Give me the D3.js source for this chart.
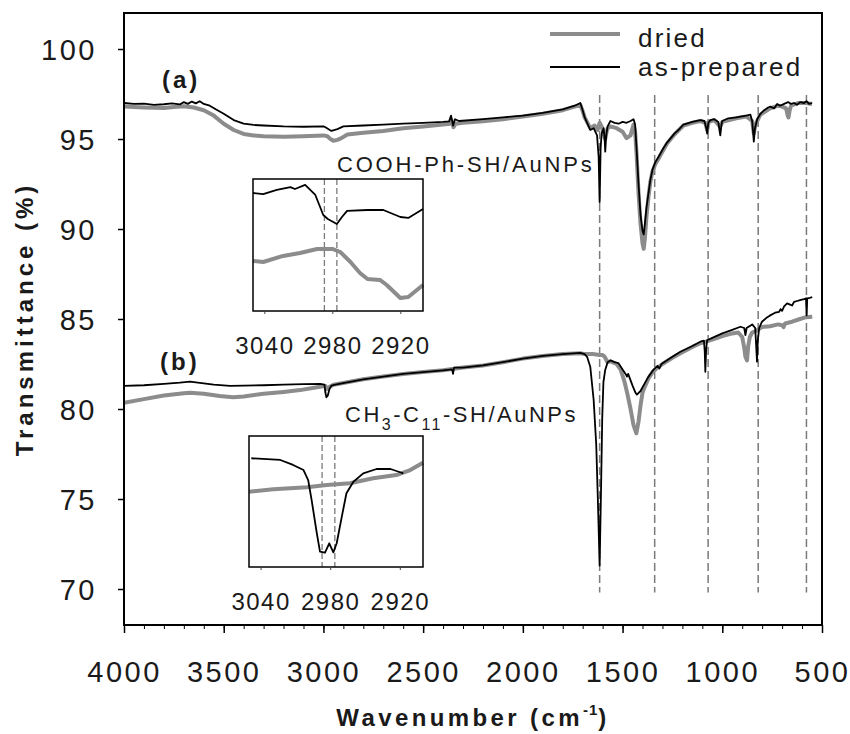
<!DOCTYPE html>
<html>
<head>
<meta charset="utf-8">
<script src="https://cdn.jsdelivr.net/npm/d3@7"></script>
<style>
  body { margin: 0; background: #fff; }
  svg text { font-family: "Liberation Sans", Arial, Helvetica, sans-serif; fill: #1a1a1a; }
</style>
</head>
<body>
<svg id="chart" width="850" height="734"></svg>
<script>
// ---- data (wavenumber cm-1, transmittance %) ----
const xTicks = [4000, 3500, 3000, 2500, 2000, 1500, 1000, 500];
const yTicks = [70, 75, 80, 85, 90, 95, 100];
const insetTicks = [3040, 2980, 2920];
const bandMarks = [1615, 1339, 1071, 820, 578];   // dashed guide lines
const insetMarks = [2987, 2976];

const preparedA = [[4000,97.0],[3950,96.95],[3900,96.97],[3850,96.9],[3800,96.93],[3760,96.98],[3720,96.92],[3700,97.05],[3680,96.95],[3660,97.08],[3640,96.98],[3620,97.1],[3600,96.95],[3570,96.85],[3540,96.65],[3500,96.4],[3450,96.05],[3400,95.85],[3350,95.78],[3300,95.75],[3200,95.7],[3100,95.68],[3000,95.7],[2990,95.65],[2960,95.45],[2930,95.55],[2900,95.7],[2800,95.75],[2700,95.8],[2600,95.85],[2500,95.9],[2400,95.95],[2370,95.98],[2360,96.3],[2350,95.75],[2340,96.1],[2320,96.0],[2200,96.1],[2100,96.2],[2000,96.3],[1900,96.45],[1800,96.65],[1740,96.85],[1712,97.0],[1700,96.6],[1690,96.2],[1662,95.5],[1645,95.6],[1628,95.2],[1620,94.0],[1615,91.5],[1610,94.5],[1605,95.3],[1595,95.6],[1590,95.0],[1587,94.3],[1582,95.2],[1575,95.7],[1561,96.0],[1540,95.9],[1520,95.85],[1500,95.95],[1480,95.9],[1460,96.0],[1445,96.1],[1437,95.8],[1430,94.5],[1420,92.5],[1410,90.8],[1400,89.9],[1394,89.7],[1388,90.3],[1380,91.2],[1370,92.0],[1361,92.7],[1350,93.3],[1336,93.7],[1320,94.0],[1300,94.4],[1277,94.8],[1240,95.3],[1220,95.5],[1195,95.8],[1150,95.95],[1110,96.05],[1090,96.0],[1080,95.6],[1076,95.3],[1070,95.9],[1060,96.05],[1040,96.1],[1020,95.95],[1013,95.4],[1010,95.2],[1004,95.8],[1000,96.0],[970,96.15],[930,96.2],[880,96.3],[859,96.35],[850,96.0],[845,95.3],[842,94.85],[836,95.6],[825,96.1],[809,96.4],[790,96.6],[770,96.75],[759,96.8],[740,96.7],[725,96.95],[710,96.85],[690,96.95],[670,97.05],[655,96.95],[640,97.0],[625,96.9],[610,97.05],[590,97.0],[578,97.1],[565,96.95],[550,97.0]];

const driedA = [[4000,96.8],[3900,96.75],[3800,96.72],[3750,96.78],[3700,96.82],[3650,96.75],[3600,96.6],[3550,96.3],[3500,95.85],[3450,95.5],[3400,95.28],[3350,95.2],[3300,95.15],[3200,95.12],[3100,95.15],[3000,95.2],[2980,95.15],[2965,95.0],[2950,94.9],[2930,94.95],[2910,95.05],[2880,95.25],[2800,95.35],[2700,95.45],[2600,95.6],[2500,95.7],[2400,95.8],[2365,95.85],[2358,96.05],[2348,95.65],[2338,95.85],[2300,95.9],[2200,95.98],[2100,96.1],[2000,96.25],[1900,96.4],[1800,96.6],[1740,96.8],[1712,96.9],[1700,96.55],[1690,96.2],[1662,95.6],[1640,95.75],[1625,95.5],[1615,95.9],[1605,95.7],[1595,95.3],[1587,95.0],[1580,95.4],[1575,95.6],[1561,95.7],[1530,95.6],[1500,95.4],[1480,95.05],[1460,95.2],[1445,95.8],[1437,95.4],[1430,94.2],[1420,92.0],[1410,90.3],[1400,89.2],[1394,88.9],[1388,89.5],[1380,90.7],[1370,91.8],[1361,92.6],[1350,93.2],[1336,93.6],[1320,93.9],[1300,94.3],[1277,94.75],[1240,95.25],[1195,95.75],[1150,95.9],[1110,96.0],[1085,95.9],[1076,95.5],[1068,95.95],[1040,96.05],[1012,95.7],[1005,95.8],[1000,95.95],[930,96.15],[880,96.25],[850,96.0],[842,95.3],[835,95.7],[825,96.0],[809,96.35],[760,96.7],[720,96.85],[700,96.8],[680,96.7],[672,96.3],[668,96.2],[662,96.6],[655,96.85],[620,97.0],[580,97.0],[550,96.95]];

const preparedB = [[4000,81.28],[3900,81.32],[3800,81.4],[3720,81.46],[3669,81.52],[3620,81.45],[3550,81.35],[3468,81.28],[3400,81.3],[3300,81.32],[3200,81.35],[3100,81.38],[3017,81.4],[2995,81.35],[2990,80.9],[2985,80.65],[2978,80.75],[2970,81.1],[2960,81.3],[2940,81.35],[2901,81.44],[2800,81.65],[2700,81.8],[2600,81.95],[2500,82.05],[2400,82.15],[2355,82.2],[2350,81.95],[2345,82.3],[2300,82.3],[2200,82.42],[2100,82.6],[2000,82.8],[1900,82.95],[1800,83.05],[1712,83.12],[1690,83.05],[1678,82.9],[1662,82.35],[1645,80.5],[1632,78.0],[1624,75.0],[1615,71.3],[1608,75.5],[1602,79.5],[1596,81.5],[1587,82.17],[1575,82.6],[1561,82.7],[1540,82.6],[1521,82.55],[1500,82.2],[1485,81.95],[1478,81.8],[1472,81.95],[1450,81.3],[1435,80.9],[1428,80.8],[1410,81.0],[1394,81.33],[1370,81.8],[1346,82.17],[1325,82.4],[1315,82.25],[1305,82.5],[1250,82.9],[1210,83.18],[1150,83.5],[1110,83.74],[1092,83.8],[1088,83.2],[1085,82.07],[1081,83.3],[1076,83.82],[1050,83.95],[1000,84.2],[950,84.4],[909,84.57],[890,84.5],[884,84.1],[878,84.5],[850,84.7],[835,84.5],[830,83.5],[826,82.63],[822,83.8],[815,84.5],[801,84.85],[780,85.05],[760,85.2],[735,85.35],[715,85.4],[708,85.55],[700,85.45],[690,85.7],[675,85.87],[660,85.8],[650,85.75],[640,85.95],[625,86.0],[610,86.05],[590,86.1],[580,86.15],[577,85.2],[574,86.15],[560,86.18],[549,86.22]];

const driedB = [[4000,80.35],[3900,80.55],[3800,80.75],[3700,80.88],[3669,80.9],[3600,80.85],[3520,80.72],[3453,80.65],[3400,80.7],[3300,80.85],[3200,80.95],[3117,81.05],[3017,81.24],[2990,81.28],[2985,81.1],[2975,81.2],[2950,81.35],[2901,81.44],[2800,81.65],[2700,81.8],[2600,81.95],[2500,82.05],[2400,82.15],[2300,82.3],[2200,82.42],[2100,82.6],[2000,82.8],[1900,82.95],[1800,83.05],[1712,83.1],[1690,83.05],[1650,83.05],[1615,83.0],[1600,83.0],[1590,82.9],[1575,82.6],[1561,82.65],[1530,82.5],[1510,82.2],[1490,81.5],[1475,80.8],[1460,80.0],[1445,79.1],[1431,78.65],[1420,79.3],[1410,80.2],[1400,80.9],[1390,81.2],[1370,81.7],[1346,82.1],[1300,82.5],[1250,82.85],[1210,83.1],[1150,83.45],[1110,83.65],[1050,83.85],[1000,84.05],[950,84.2],[920,84.25],[900,84.0],[890,83.4],[884,82.9],[876,82.7],[870,83.5],[862,84.0],[850,84.25],[830,84.35],[801,84.55],[760,84.6],[720,84.7],[700,84.65],[693,84.55],[685,84.75],[650,84.85],[610,85.0],[580,85.1],[549,85.13]];

// insets: C-H stretch region, arbitrary relative units
const insetPreparedA = [[3050,89.4],[3041,88.6],[3029,91.7],[3017,93.9],[3013,92.4],[3004,95.5],[2995,87.9],[2988,72.7],[2984,69.7],[2976,65.9],[2971.5,71.2],[2967,75.8],[2949,76.5],[2935,76.5],[2920,71.2],[2913,70.5],[2900,77.3]];
const insetDriedA = [[3050,37.9],[3041,37.1],[3023.5,41.7],[3008.5,43.9],[2993.5,47.0],[2980,47.0],[2973,44.7],[2964,37.1],[2955.6,28.8],[2949,24.2],[2938,23.5],[2932,19.7],[2920,9.8],[2913,10.6],[2900,19.7]];
const insetPreparedB = [[3048,83.0],[3023,81.7],[3012,77.9],[3003,74.0],[2999,66.4],[2996,51.1],[2991.6,26.0],[2988.8,11.7],[2984.5,10.9],[2980.8,18.1],[2977.3,11.2],[2974.4,18.1],[2970,38.4],[2966,56.3],[2960,65.1],[2951.5,71.5],[2940,74.8],[2928,74.8],[2921,72.7],[2917,71.5]];
const insetDriedB = [[3050,57.5],[3029,59.3],[3000,60.8],[2983,62.6],[2963,63.9],[2943,67.7],[2923,70.2],[2911,74.0],[2900,79.6]];

// ---- layout ----
const plot = { left: 124, top: 13, right: 822, bottom: 625 };
const grayCol = '#8c8c8c';
const dashCol = '#7a7a7a';

const svg = d3.select('#chart');

const x = d3.scaleLinear().domain([4000, 500]).range([plot.left, plot.right]);
const y = d3.scaleLinear().domain([68, 102]).range([plot.bottom, plot.top]);

svg.append('defs').append('clipPath').attr('id', 'clip')
  .append('rect')
  .attr('x', plot.left).attr('y', plot.top)
  .attr('width', plot.right - plot.left).attr('height', plot.bottom - plot.top);

// dashed band markers go underneath the spectra
svg.append('g').selectAll('line')
  .data(bandMarks)
  .join('line')
  .attr('x1', d => x(d)).attr('x2', d => x(d))
  .attr('y1', y(97.45)).attr('y2', y(69.8))
  .attr('stroke', dashCol).attr('stroke-width', 1.5)
  .attr('stroke-dasharray', '8,4');

const line = d3.line().x(d => x(d[0])).y(d => y(d[1]));

const spectra = svg.append('g').attr('clip-path', 'url(#clip)');
[driedA, driedB].forEach(s => {
  spectra.append('path').datum(s).attr('d', line)
    .attr('fill', 'none').attr('stroke', grayCol).attr('stroke-width', 4)
    .attr('stroke-linejoin', 'round');
});
[preparedA, preparedB].forEach(s => {
  spectra.append('path').datum(s).attr('d', line)
    .attr('fill', 'none').attr('stroke', '#000').attr('stroke-width', 1.8)
    .attr('stroke-linejoin', 'round');
});

// ---- axes ----
const xMinor = d3.range(500, 4001, 100);
svg.append('g')
  .attr('transform', `translate(0,${plot.bottom})`)
  .call(d3.axisBottom(x).tickValues(xMinor).tickSize(4).tickFormat(''))
  .call(g => g.select('.domain').remove())
  .call(g => g.selectAll('line').attr('stroke-width', 1));

svg.append('g')
  .attr('transform', `translate(0,${plot.bottom})`)
  .call(d3.axisBottom(x).tickValues(xTicks).tickSize(8).tickFormat(d3.format('d')))
  .call(g => g.select('.domain').remove())
  .call(g => g.selectAll('line').attr('stroke-width', 1.5))
  .call(g => g.selectAll('text')
    .attr('y', 57).attr('dy', 0)
    .style('font-size', '29px').style('letter-spacing', '2.5px'));

svg.append('g')
  .attr('transform', `translate(${plot.left},0)`)
  .call(d3.axisLeft(y).tickValues(yTicks).tickSize(6))
  .call(g => g.select('.domain').remove())
  .call(g => g.selectAll('line').attr('stroke-width', 1.5))
  .call(g => g.selectAll('text')
    .attr('x', -27).attr('dy', '0.35em')
    .style('font-size', '29px').style('letter-spacing', '2.5px'));

// frame
svg.append('rect')
  .attr('x', plot.left).attr('y', plot.top)
  .attr('width', plot.right - plot.left).attr('height', plot.bottom - plot.top)
  .attr('fill', 'none').attr('stroke', '#000').attr('stroke-width', 2);

// axis titles
svg.append('text')
  .attr('transform', `translate(33,${(plot.top + plot.bottom) / 2}) rotate(-90)`)
  .attr('text-anchor', 'middle')
  .style('font-size', '24px').style('font-weight', 'bold').style('letter-spacing', '4px')
  .text('Transmittance (%)');

const xt = svg.append('text')
  .attr('x', (plot.left + plot.right) / 2).attr('y', 726)
  .attr('text-anchor', 'middle')
  .style('font-size', '24px').style('font-weight', 'bold').style('letter-spacing', '3.4px');
xt.append('tspan').text('Wavenumber (cm');
xt.append('tspan').attr('dy', -11).style('font-size', '15px').style('letter-spacing', '1px').text('-1');
xt.append('tspan').attr('dy', 11).text(')');

// ---- legend ----
const legend = svg.append('g');
legend.append('line').attr('x1', 550).attr('x2', 620).attr('y1', 34).attr('y2', 34)
  .attr('stroke', grayCol).attr('stroke-width', 4);
legend.append('line').attr('x1', 550).attr('x2', 620).attr('y1', 67).attr('y2', 67)
  .attr('stroke', '#000').attr('stroke-width', 1.8);
legend.append('text').attr('x', 638).attr('y', 47)
  .style('font-size', '26px').style('letter-spacing', '2.2px').text('dried');
legend.append('text').attr('x', 638).attr('y', 76)
  .style('font-size', '26px').style('letter-spacing', '2.2px').text('as-prepared');

// ---- panel labels ----
svg.append('text').attr('x', 162).attr('y', 88)
  .style('font-size', '24px').style('font-weight', 'bold').style('letter-spacing', '3px').text('(a)');
svg.append('text').attr('x', 160).attr('y', 370)
  .style('font-size', '24px').style('font-weight', 'bold').style('letter-spacing', '3px').text('(b)');

svg.append('text').attr('x', 337).attr('y', 172)
  .style('font-size', '22px').style('letter-spacing', '2.8px').text('COOH-Ph-SH/AuNPs');

const lb = svg.append('text').attr('x', 345).attr('y', 422)
  .style('font-size', '22px').style('letter-spacing', '2.5px');
lb.append('tspan').text('CH');
lb.append('tspan').attr('dy', 8).style('font-size', '16px').text('3');
lb.append('tspan').attr('dy', -8).text('-C');
lb.append('tspan').attr('dy', 8).style('font-size', '16px').text('11');
lb.append('tspan').attr('dy', -8).text('-SH/AuNPs');

// ---- insets ----
function drawInset(box, prepared, dried) {
  const g = svg.append('g');
  const ix = d3.scaleLinear().domain([3050, 2900]).range([box.x0, box.x1]);
  const iy = d3.scaleLinear().domain([0, 100]).range([box.y1, box.y0]);
  const il = d3.line().x(d => ix(d[0])).y(d => iy(d[1]));

  g.append('rect')
    .attr('x', box.x0).attr('y', box.y0)
    .attr('width', box.x1 - box.x0).attr('height', box.y1 - box.y0)
    .attr('fill', '#fff');

  g.selectAll('.mark')
    .data(insetMarks)
    .join('line')
    .attr('x1', d => ix(d)).attr('x2', d => ix(d))
    .attr('y1', box.y0).attr('y2', box.y1)
    .attr('stroke', dashCol).attr('stroke-width', 1.3)
    .attr('stroke-dasharray', '6,3');

  g.append('path').datum(dried).attr('d', il)
    .attr('fill', 'none').attr('stroke', grayCol).attr('stroke-width', 4)
    .attr('stroke-linejoin', 'round');
  g.append('path').datum(prepared).attr('d', il)
    .attr('fill', 'none').attr('stroke', '#000').attr('stroke-width', 1.8)
    .attr('stroke-linejoin', 'round');

  g.append('rect')
    .attr('x', box.x0).attr('y', box.y0)
    .attr('width', box.x1 - box.x0).attr('height', box.y1 - box.y0)
    .attr('fill', 'none').attr('stroke', '#000').attr('stroke-width', 1.5);

  g.append('g')
    .attr('transform', `translate(0,${box.y1})`)
    .call(d3.axisBottom(ix).tickValues(insetTicks).tickSize(3).tickFormat(d3.format('d')))
    .call(a => a.select('.domain').remove())
    .call(a => a.selectAll('line').attr('stroke', '#444'))
    .call(a => a.selectAll('text')
      .attr('y', 43).attr('dy', 0)
      .style('font-size', '24px').style('letter-spacing', '1.5px'));
}

drawInset({ x0: 253, x1: 423, y0: 179, y1: 311 }, insetPreparedA, insetDriedA);
drawInset({ x0: 249, x1: 423, y0: 436, y1: 567 }, insetPreparedB, insetDriedB);
</script>
</body>
</html>
